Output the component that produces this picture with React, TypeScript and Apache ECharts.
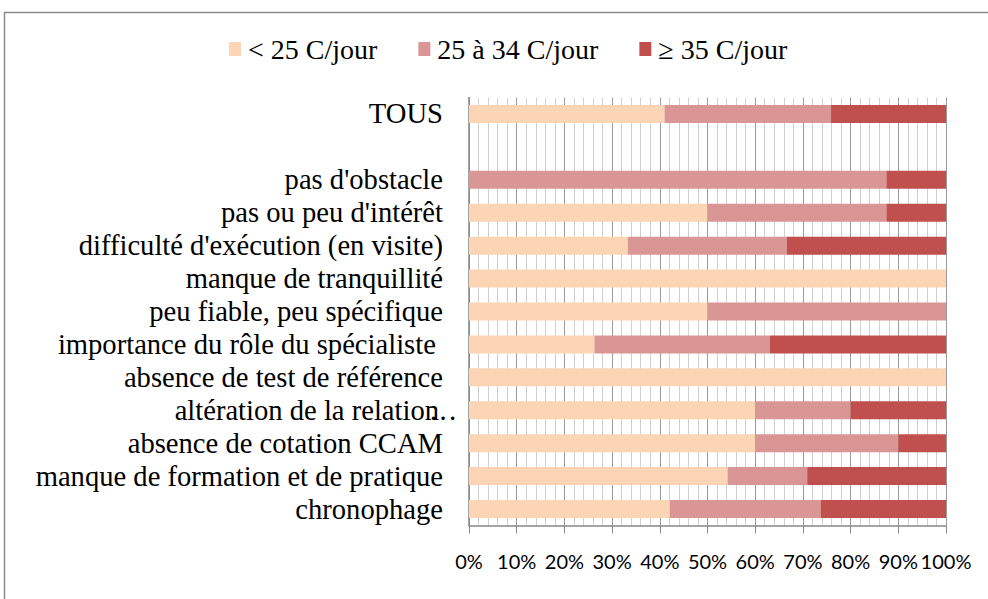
import React, { useEffect, useRef } from "react";
import * as echarts from "echarts";

const categories = [
  "TOUS",
  "",
  "pas d'obstacle",
  "pas ou peu d'intérêt",
  "difficulté d'exécution (en visite)",
  "manque de tranquillité",
  "peu fiable, peu spécifique",
  "importance du rôle du spécialiste ",
  "absence de test de référence",
  "altération de la relation…",
  "absence de cotation CCAM",
  "manque de formation et de pratique",
  "chronophage",
];

const seriesNames = ["< 25 C/jour", "25 à 34 C/jour", "≥ 35 C/jour"];
const less25 = [41.0, null, 0, 50, 33.3, 100, 50, 26.3, 100, 60, 60, 54.2, 42.1];
const from25to34 = [34.9, null, 87.5, 37.5, 33.3, 0, 50, 36.8, 0, 20, 30, 16.7, 31.6];
const atLeast35 = [24.1, null, 12.5, 12.5, 33.4, 0, 0, 36.9, 0, 20, 10, 29.1, 26.3];
const colors = ["#FCD5B5", "#D99694", "#C0504D"];

const serif = "'Liberation Serif', 'Times New Roman', serif";
const sans = "Lato, 'Noto Sans', sans-serif";

export default function App() {
  const ref = useRef<HTMLDivElement>(null);
  useEffect(() => {
    if (!ref.current) return;
    const chart = echarts.init(ref.current, null, { renderer: "svg" });
    const values = [less25, from25to34, atLeast35];
    chart.setOption({
      animation: false,
      backgroundColor: "#ffffff",
      graphic: [
        {
          type: "rect",
          shape: { x: 4.5, y: 12.5, width: 1200, height: 800 },
          style: { fill: "none", stroke: "#8c8c8c", lineWidth: 1.5 },
          silent: true,
        },
      ],
      legend: {
        top: 30,
        left: 224,
        itemWidth: 12,
        itemHeight: 14,
        itemGap: 41,
        icon: "rect",
        textStyle: { fontFamily: serif, fontSize: 28, color: "#000", padding: [0, 0, 0, 2] },
        data: seriesNames,
      },
      grid: { left: 469, right: 42, top: 97.5, height: 428, containLabel: false },
      xAxis: {
        type: "value",
        min: 0,
        max: 100,
        interval: 10,
        axisLine: { show: true, lineStyle: { color: "#868686", width: 1.5 } },
        axisTick: { show: true, length: 8, lineStyle: { color: "#868686" } },
        axisLabel: {
          formatter: "{value}%",
          fontFamily: sans,
          fontSize: 20,
          color: "#000",
          margin: 25,
        },
        splitLine: { show: true, lineStyle: { color: "#9a9a9a", width: 1 } },
        minorTick: { show: false, splitNumber: 5 },
        minorSplitLine: { show: true, lineStyle: { color: "#d0d0d0", width: 1 } },
      },
      yAxis: {
        type: "category",
        inverse: true,
        data: categories,
        axisLine: { show: true, lineStyle: { color: "#868686", width: 1.5 } },
        axisTick: { show: false },
        axisLabel: {
          fontFamily: serif,
          fontSize: 28.6,
          color: "#000",
          margin: 26,
          interval: 0,
          formatter: (v: string) => (v.endsWith("…") ? v.slice(0, -1) + "{e|…}" : v),
          rich: {
            e: {
              width: 0,
              align: "left",
              padding: [0, 0, 0, 4],
              fontFamily: serif,
              fontSize: 28.6,
              color: "#000",
            },
          },
        },
        splitLine: { show: false },
      },
      series: seriesNames.map((name, i) => ({
        name,
        type: "bar",
        stack: "total",
        barWidth: 18,
        itemStyle: { color: colors[i] },
        data: values[i],
      })),
    });
    return () => chart.dispose();
  }, []);
  return (
    <div
      ref={ref}
      style={{ position: "fixed", left: 0, top: 0, width: 988, height: 599 }}
    />
  );
}
